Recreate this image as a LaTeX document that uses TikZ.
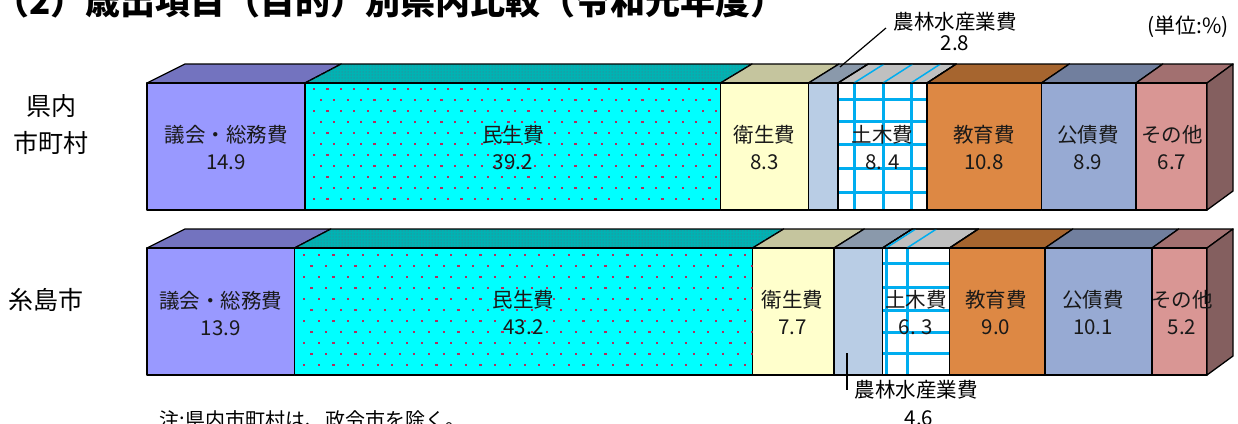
\documentclass[tikz,border=0pt]{standalone}
\usepackage{fontspec}
\setmainfont{Noto Sans CJK JP}
\usetikzlibrary{patterns}

\definecolor{giikai}{HTML}{9999FF}
\definecolor{giikaitop}{HTML}{7373BF}
\definecolor{minsei}{HTML}{00FFFF}
\definecolor{minseitop}{HTML}{00B3B3}
\definecolor{eisei}{HTML}{FFFFCC}
\definecolor{eiseitop}{HTML}{C5C59E}
\definecolor{norin}{HTML}{B9CDE5}
\definecolor{norintop}{HTML}{8A99AB}
\definecolor{dobokutop}{HTML}{C0C0C0}
\definecolor{kyoiku}{HTML}{DD8844}
\definecolor{kyoikutop}{HTML}{A6652F}
\definecolor{kosai}{HTML}{97AAD3}
\definecolor{kosaitop}{HTML}{717F9E}
\definecolor{sonota}{HTML}{D99694}
\definecolor{sonotatop}{HTML}{A27070}
\definecolor{sonotaside}{HTML}{845F5F}
\definecolor{dotred}{HTML}{B03060}

% one block of the bar: top face and front face
\newcommand{\barseg}[5]{%
  \pgfmathsetmacro{\bxa}{185+(#2-147)*0.9887}%
  \pgfmathsetmacro{\bxb}{185+(#3-147)*0.9887}%
  \filldraw[barface,fill=#5] (#2,#1) -- (\bxa,#1-19) -- (\bxb,#1-19) -- (#3,#1) -- cycle;
  \filldraw[barface,fill=#4] (#2,#1) rectangle (#3,#1+127);
}

\begin{document}
\begin{tikzpicture}[x=1pt,y=-1pt,
  barface/.style={draw=black,line width=1.3pt,line join=round},
  seglbl/.style={align=center,font=\fontsize{20.5}{27}\selectfont,text=black!90},
  rowlbl/.style={align=center,font=\fontsize{25}{37}\selectfont},
  notelbl/.style={font=\fontsize{20.5}{21}\selectfont},
  dobokuline/.style={draw=cyan,line width=3pt},
  reddot/.style={fill=dotred}]

\useasboundingbox (0,0) rectangle (1238,423);

\node[anchor=west,inner sep=0pt,font=\fontsize{35}{35}\selectfont\bfseries] (title) at (-6,1) {（2）歳出項目（目的）別県内比較（令和元年度）};
\node[font=\fontsize{21}{21}\selectfont] (unit) at (1188,27) {(単位:\%)};

% bar 1
\barseg{83}{147}{305}{giikai}{giikaitop}
\barseg{83}{305}{720.5}{minsei}{minseitop}
\barseg{83}{720.5}{808.5}{eisei}{eiseitop}
\barseg{83}{808.5}{838}{norin}{norintop}
\barseg{83}{838}{927}{white}{dobokutop}
\barseg{83}{927}{1041.5}{kyoiku}{kyoikutop}
\barseg{83}{1041.5}{1136}{kosai}{kosaitop}
\barseg{83}{1136}{1207}{sonota}{sonotatop}
\filldraw[barface,fill=sonotaside] (1207,83) -- (1233,64) -- (1233,191) -- (1207,210) -- cycle;

\fill[pattern=dots,pattern color=dotred!60!minseitop] (305,83) -- (341.2,64) -- (752,64) -- (720.5,83) -- cycle;
\begin{scope}
\clip (305,83) rectangle (720.5,210);
\foreach \r in {0,...,10}
  \foreach \c in {0,...,30}
    \fill[reddot] ({313+13.4*\c+6.7*mod(\r,2)},{88+11*\r}) rectangle ++(2.2,2.2);
\end{scope}

\begin{scope}
\clip (838,83) rectangle (927,210);
\foreach \v in {854,883,911} \draw[dobokuline] (\v,83) -- (\v,210);
\foreach \h in {99.5,121,144,168,192} \draw[dobokuline] (838,\h) -- (927,\h);
\end{scope}
\draw[barface] (838,83) rectangle (927,210);
\begin{scope}
\clip (838,83) -- (868.2,64) -- (956.2,64) -- (927,83) -- cycle;
\foreach \v in {854,883,911} \draw[cyan,line width=1.5pt] (\v,83) -- ({185+(\v-147)*0.9887},64);
\end{scope}
\draw[barface] (838,83) -- (868.2,64) -- (956.2,64) -- (927,83) -- cycle;

% bar 2
\barseg{248}{147}{294.5}{giikai}{giikaitop}
\barseg{248}{294.5}{752.5}{minsei}{minseitop}
\barseg{248}{752.5}{834}{eisei}{eiseitop}
\barseg{248}{834}{882.5}{norin}{norintop}
\barseg{248}{882.5}{949.5}{white}{dobokutop}
\barseg{248}{949.5}{1045}{kyoiku}{kyoikutop}
\barseg{248}{1045}{1152}{kosai}{kosaitop}
\barseg{248}{1152}{1207}{sonota}{sonotatop}
\filldraw[barface,fill=sonotaside] (1207,248) -- (1233,229) -- (1233,356) -- (1207,375) -- cycle;

\fill[pattern=dots,pattern color=dotred!60!minseitop] (294.5,248) -- (330.8,229) -- (783.6,229) -- (752.5,248) -- cycle;
\begin{scope}
\clip (294.5,248) rectangle (752.5,375);
\foreach \r in {0,...,10}
  \foreach \c in {0,...,31}
    \fill[reddot] ({303+14.7*\c+7.35*mod(\r,2)},{254+11*\r}) rectangle ++(2.2,2.2);
\end{scope}

\begin{scope}
\clip (882.5,248) rectangle (949.5,375);
\foreach \v in {886,907} \draw[dobokuline] (\v,248) -- (\v,375);
\foreach \h in {263,287,310,332,353} \draw[dobokuline] (882.5,\h) -- (949.5,\h);
\end{scope}
\draw[barface] (882.5,248) rectangle (949.5,375);
\begin{scope}
\clip (882.5,248) -- (912.2,229) -- (978.4,229) -- (949.5,248) -- cycle;
\foreach \v in {886,907} \draw[cyan,line width=1.5pt] (\v,248) -- ({185+(\v-147)*0.9887},229);
\end{scope}
\draw[barface] (882.5,248) -- (912.2,229) -- (978.4,229) -- (949.5,248) -- cycle;

% labels
\node[rowlbl] (ken) at (51,124.5) {県内\\市町村};
\node[rowlbl] (itoshima) at (46,300) {糸島市};

\node[seglbl] (k1) at (226,148) {議会・総務費\\14.9};
\node[seglbl] (k2) at (512.75,148) {民生費\\39.2};
\node[seglbl] (k3) at (764.5,148) {衛生費\\8.3};
\node[seglbl] (k5) at (882.5,148) {土木費\\8. 4};
\node[seglbl] (k6) at (984,148) {教育費\\10.8};
\node[seglbl] (k7) at (1088,148) {公債費\\8.9};
\node[seglbl] (k8) at (1172,148) {その他\\6.7};

\node[seglbl] (i1) at (220.75,313) {議会・総務費\\13.9};
\node[seglbl] (i2) at (523.5,313) {民生費\\43.2};
\node[seglbl] (i3) at (792.5,313) {衛生費\\7.7};
\node[seglbl] (i5) at (916,313) {土木費\\6. 3};
\node[seglbl] (i6) at (996,313) {教育費\\9.0};
\node[seglbl] (i7) at (1093,313) {公債費\\10.1};
\node[seglbl] (i8) at (1182,313) {その他\\5.2};

% callouts for 農林水産業費
\node[notelbl] (ntn) at (955,22) {農林水産業費};
\node[notelbl] (ntv) at (955,43) {2.8};
\coordinate (nt0) at (840,67);
\draw[line width=1.2pt] (nt0) -- ([xshift=-4pt,yshift=-6pt]ntn.west);

\node[notelbl] (nbn) at (916,390) {農林水産業費};
\node[notelbl] (nbv) at (919,418) {4.6};
\coordinate (nb0) at (847,353);
\draw[line width=1.2pt] (nb0) -- (nb0 |- nbn.west);

\node[anchor=west,font=\fontsize{20}{20}\selectfont] (note) at (156,420) {注:県内市町村は、政令市を除く。};

\end{tikzpicture}
\end{document}
